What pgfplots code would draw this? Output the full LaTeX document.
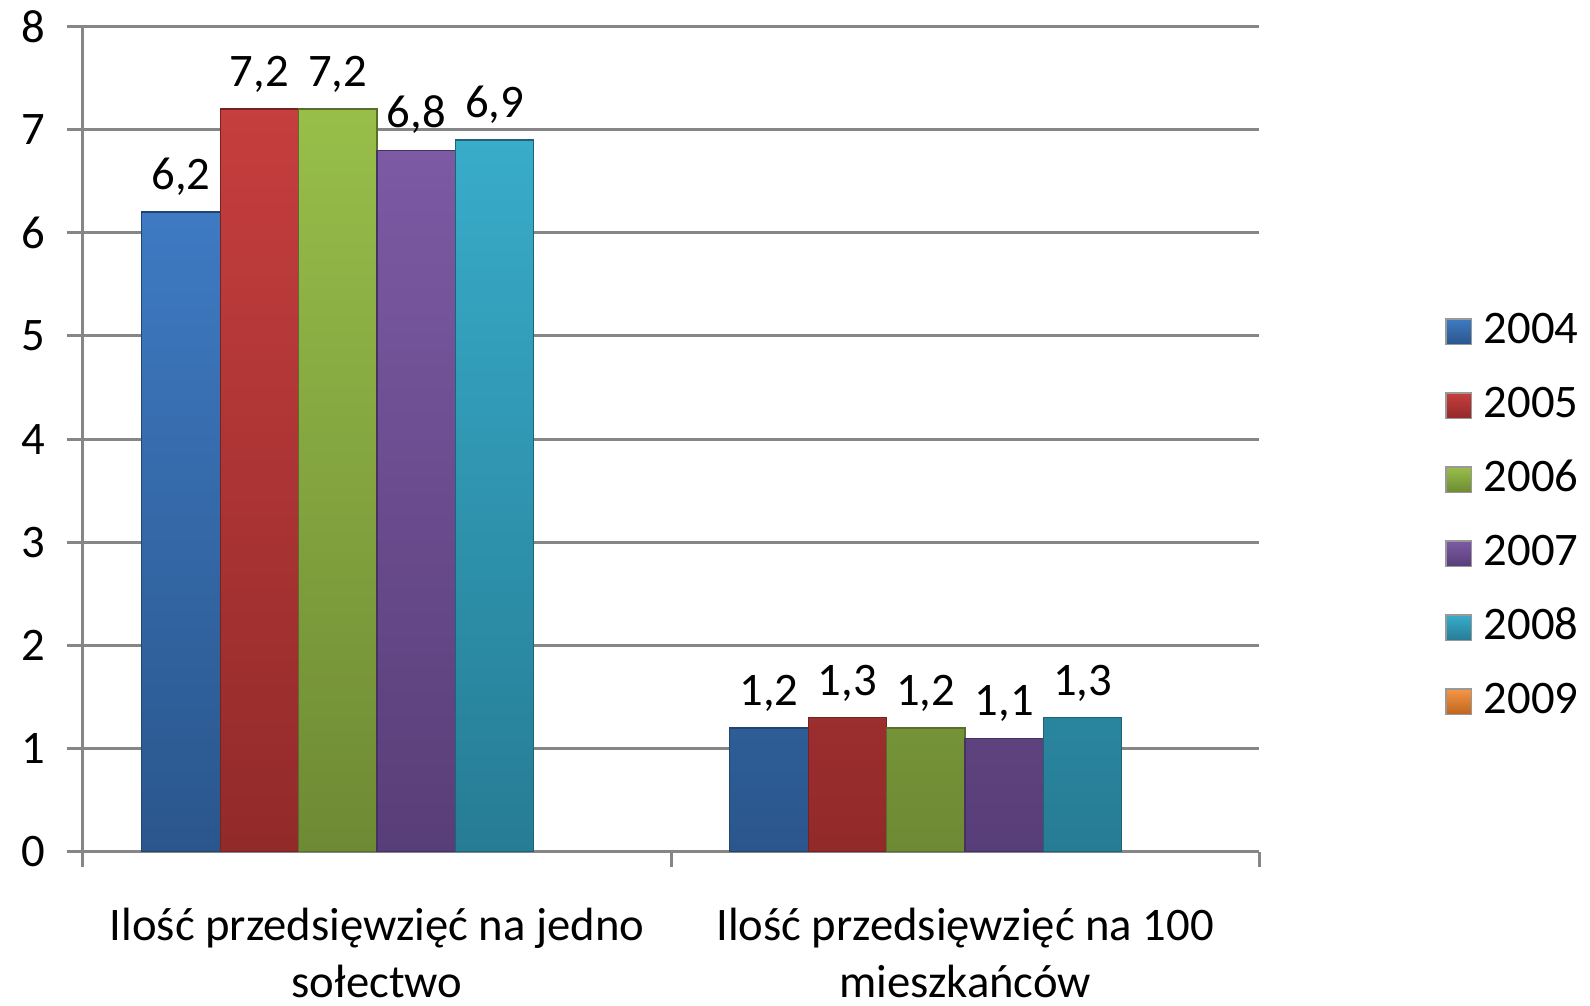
\documentclass[border=0pt]{standalone}
\usepackage{fontspec}
\setmainfont{Carlito}
\usepackage{pgfplots}
\pgfplotsset{compat=1.18}
\definecolor{gridgray}{RGB}{134,134,134}
\definecolor{bluetop}{RGB}{62,122,194}
\definecolor{bluebot}{RGB}{42,86,140}
\definecolor{redtop}{RGB}{198,62,62}
\definecolor{redbot}{RGB}{146,42,42}
\definecolor{greentop}{RGB}{152,190,74}
\definecolor{greenbot}{RGB}{110,138,52}
\definecolor{purpletop}{RGB}{124,90,164}
\definecolor{purplebot}{RGB}{88,62,120}
\definecolor{cyantop}{RGB}{56,172,202}
\definecolor{cyanbot}{RGB}{38,124,148}
\definecolor{orangetop}{RGB}{246,150,70}
\definecolor{orangebot}{RGB}{190,100,30}
\begin{document}
\begin{tikzpicture}
\path[use as bounding box] (-24.9pt,-46.2pt) rectangle (452.1pt,255.6pt);
\begin{axis}[
  scale only axis,
  width=352.8pt, height=247.7pt,
  xmin=-0.5, xmax=1.5, ymin=0, ymax=8,
  ytick={0,1,...,8},
  xtick={0,1},
  xticklabels={Ilość przedsięwzięć na jedno\\sołectwo, Ilość przedsięwzięć na 100\\mieszkańców},
  minor xtick={-0.5,0.5,1.5},
  axis x line*=bottom, axis y line*=left,
  axis line style={gridgray, line width=0.9pt},
  ymajorgrids, grid style={gridgray, line width=0.9pt},
  tick align=outside,
  major tick length=4.8pt, minor tick length=4.5pt,
  major x tick style={draw=none},
  minor x tick style={gridgray, line width=0.9pt},
  major y tick style={gridgray, line width=0.9pt},
  tick label style={font=\fontsize{14}{17}\selectfont},
  xticklabel style={align=center, yshift=-8.5pt},
  yticklabel style={xshift=-3pt},
  /pgf/number format/assume math mode=true,
  ybar, bar width=0.1333,
  nodes near coords={\pgfmathprintnumber[fixed,fixed zerofill,precision=1,use comma,assume math mode=true]{\pgfplotspointmeta}},
  every node near coord/.append style={font=\fontsize{14}{17}\selectfont, black, yshift=1.5pt},
  legend style={draw=none, fill=none, at={(1.1495,0.406)}, anchor=west,
    nodes={inner sep=0pt, text height=10pt, text depth=3pt, font=\fontsize{14}{17}\selectfont},
    row sep=9.2pt},
  legend cell align=left,
  legend image code/.code={\draw[#1, draw=black!40] (0pt,-3.8pt) rectangle (7.6pt,3.8pt);},
  legend style={/tikz/every odd column/.append style={column sep=3.5pt}},
]
\addplot[bar shift=-0.3333, shade, top color=bluetop, bottom color=bluebot, draw=bluebot!80!black, line width=0.4pt] coordinates {(0,6.2) (1,1.2)};
\addlegendentry{2004}
\addplot[bar shift=-0.2, shade, top color=redtop, bottom color=redbot, draw=redbot!80!black, line width=0.4pt] coordinates {(0,7.2) (1,1.3)};
\addlegendentry{2005}
\addplot[bar shift=-0.0667, shade, top color=greentop, bottom color=greenbot, draw=greenbot!80!black, line width=0.4pt] coordinates {(0,7.2) (1,1.2)};
\addlegendentry{2006}
\addplot[bar shift=0.0667, shade, top color=purpletop, bottom color=purplebot, draw=purplebot!80!black, line width=0.4pt] coordinates {(0,6.8) (1,1.1)};
\addlegendentry{2007}
\addplot[bar shift=0.2, shade, top color=cyantop, bottom color=cyanbot, draw=cyanbot!80!black, line width=0.4pt] coordinates {(0,6.9) (1,1.3)};
\addlegendentry{2008}
\addlegendimage{shade, top color=orangetop, bottom color=orangebot}
\addlegendentry{2009}
\end{axis}
\end{tikzpicture}
\end{document}
